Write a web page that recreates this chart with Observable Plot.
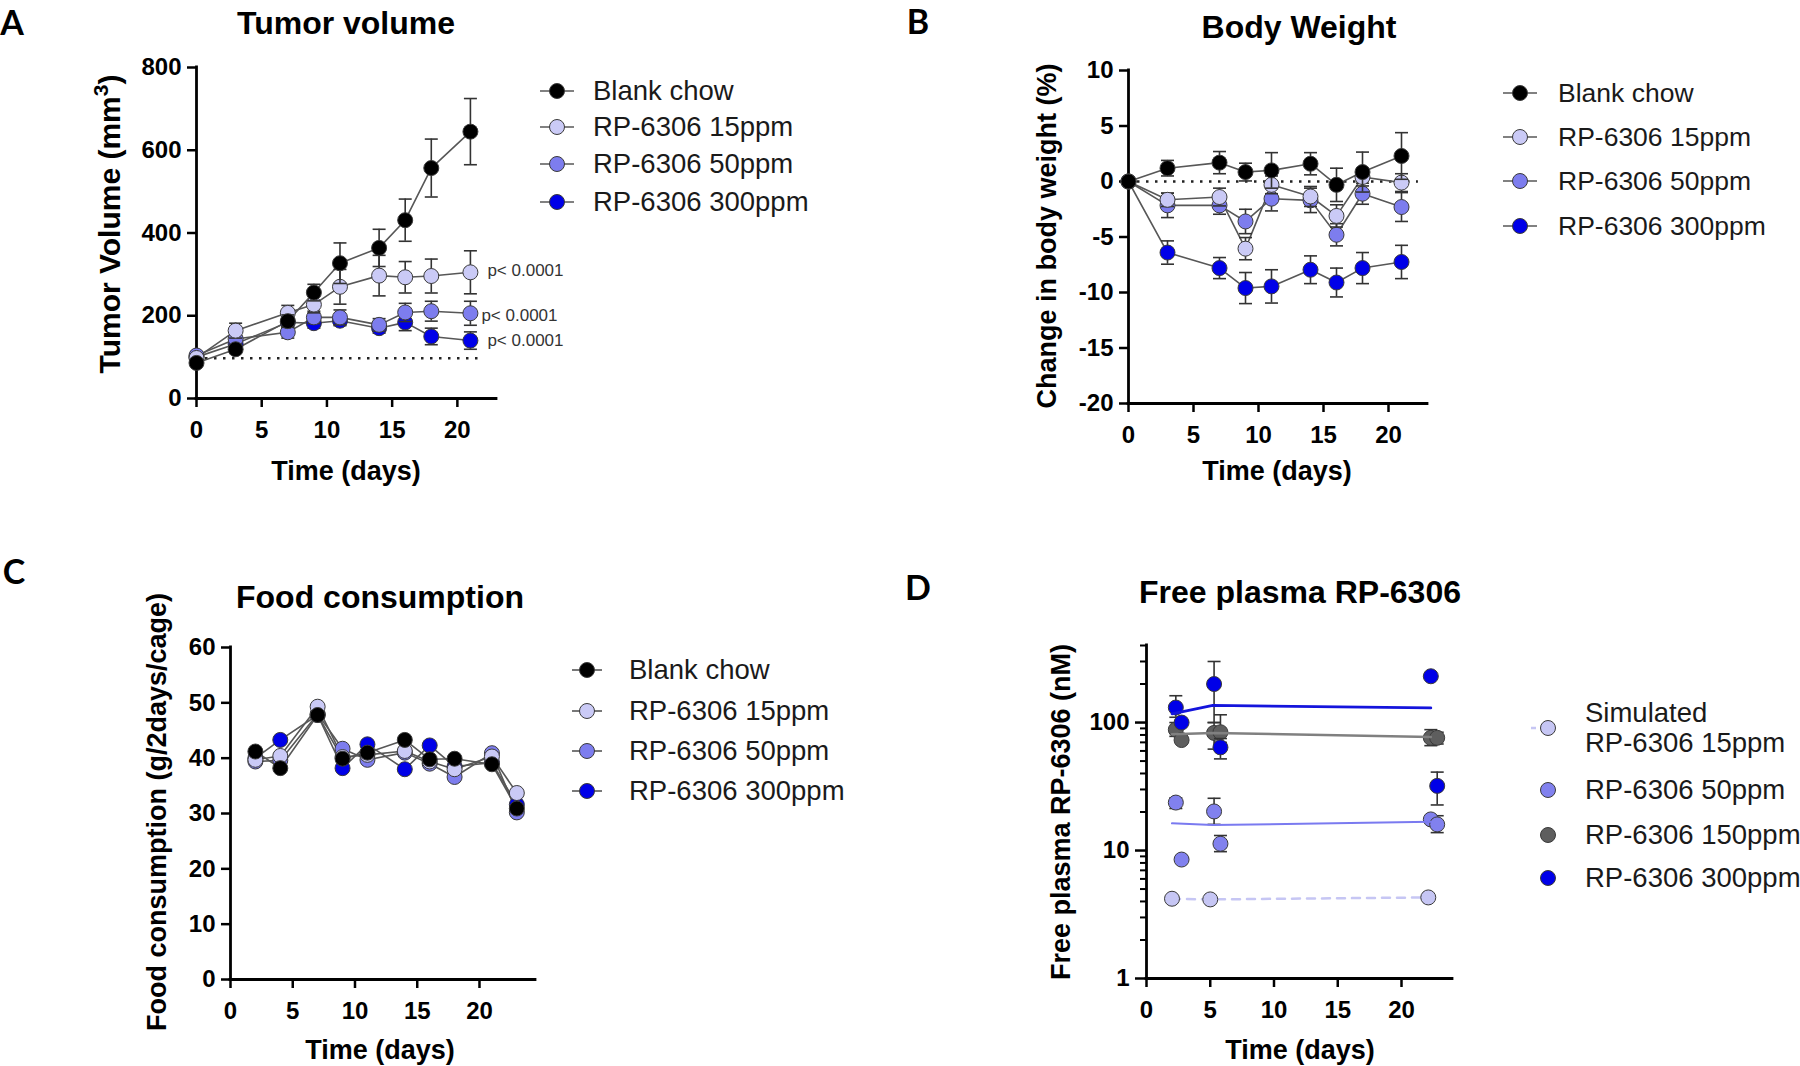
<!DOCTYPE html>
<html>
<head>
<meta charset="utf-8">
<script src="https://cdn.jsdelivr.net/npm/d3@7"></script>
<script src="https://cdn.jsdelivr.net/npm/@observablehq/plot@0.6"></script>
<style>
html,body{margin:0;padding:0;background:#fff;}
#fig{position:relative;width:1800px;height:1066px;overflow:hidden;background:#fff;font-family:"Liberation Sans",Arial,Helvetica,sans-serif;color:#000;}
#fig svg.panel{position:absolute;left:0;top:0;}
.t{position:absolute;white-space:nowrap;line-height:1;}
.ctr{transform:translate(-50%,-50%);}
.title{font-size:32px;font-weight:bold;}
.xlab{font-size:27px;font-weight:bold;}
.ylab{font-size:27px;font-weight:bold;transform:translate(-50%,-50%) rotate(-90deg);}
.letter{font-family:Lato,"Open Sans",sans-serif;font-size:34px;font-weight:bold;line-height:1.15;}
.leg{font-size:26.5px;color:#1a1a1a;transform:translateY(-50%);}
sup{font-size:0.7em;vertical-align:0.55em;line-height:0;}
</style>
</head>
<body>
<div id="fig"></div>
<script>
// ---------------- shared series ----------------
const seriesNames = ["Blank chow", "RP-6306 15ppm", "RP-6306 50ppm", "RP-6306 300ppm"];
const seriesColors = ["#000000", "#cacaf6", "#7d7dee", "#0000e8"];

// ---------------- A: Tumor volume ----------------
const tumorDays = [0, 3, 7, 9, 11, 14, 16, 18, 21];
const tumorBlank = [86, 119, 187, 256, 327, 364, 431, 557, 645];
const tumorBlankErr = [8, 10, 15, 20, 49, 45, 51, 70, 80];
const tumor15 = [98, 164, 207, 227, 270, 297, 293, 296, 305];
const tumor15Err = [8, 18, 18, 20, 42, 49, 38, 41, 52];
const tumor50 = [104, 144, 160, 196, 196, 178, 208, 211, 206];
const tumor50Err = [8, 14, 14, 15, 18, 15, 22, 24, 29];
const tumor300 = [100, 132, 184, 182, 188, 170, 184, 150, 140];
const tumor300Err = [8, 12, 14, 12, 12, 12, 20, 20, 21];
const tumorStart = 97;
const tumorStartEnd = 21.6;
const tumorPLabels = ["p< 0.0001", "p< 0.0001", "p< 0.0001"];
const tumorXTicks = [0, 5, 10, 15, 20];
const tumorYTicks = [0, 200, 400, 600, 800];

// ---------------- B: Body weight ----------------
const bwDays = [0, 3, 7, 9, 11, 14, 16, 18, 21];
const bwBlank = [0, 1.2, 1.7, 0.85, 1.0, 1.6, -0.3, 0.85, 2.3];
const bwBlankErr = [0, 0.7, 1.0, 0.8, 1.6, 1.0, 1.5, 1.8, 2.1];
const bw15 = [0, -1.65, -1.4, -6.05, -0.3, -1.35, -3.1, 0.4, -0.1];
const bw15Err = [0, 0.6, 0.8, 1.0, 0.8, 0.9, 1.0, 0.8, 0.8];
const bw50 = [0, -2.15, -2.15, -3.6, -1.55, -1.7, -4.8, -1.1, -2.3];
const bw50Err = [0, 1.1, 0.8, 1.1, 1.1, 1.1, 1.0, 0.95, 1.3];
const bw300 = [0, -6.4, -7.8, -9.6, -9.45, -7.95, -9.1, -7.8, -7.25];
const bw300Err = [0, 1.05, 0.95, 1.4, 1.5, 1.25, 1.3, 1.4, 1.5];
const bwRefEnd = 22.3;
const bwXTicks = [0, 5, 10, 15, 20];
const bwYTicks = [-20, -15, -10, -5, 0, 5, 10];

// ---------------- C: Food consumption ----------------
const foodDays = [2, 4, 7, 9, 11, 14, 16, 18, 21, 23];
const foodBlank = [41.2, 38.2, 47.8, 39.9, 41.0, 43.3, 39.8, 39.9, 38.9, 30.9];
const food15 = [39.7, 40.4, 49.3, 40.2, 40.6, 41.3, 39.4, 38.0, 40.3, 33.7];
const food50 = [39.4, 39.6, 48.0, 41.7, 39.7, 41.0, 39.0, 36.6, 40.9, 30.2];
const food300 = [40.0, 43.3, 47.8, 38.2, 42.5, 38.0, 42.3, 38.5, 39.2, 31.6];
const foodXTicks = [0, 5, 10, 15, 20];
const foodYTicks = [0, 10, 20, 30, 40, 50, 60];

// ---------------- D: Free plasma RP-6306 ----------------
const plasmaNames = ["Simulated<br>RP-6306 15ppm", "RP-6306 50ppm", "RP-6306 150ppm", "RP-6306 300ppm"];
const plasmaColors = ["#c6c6f4", "#8181ee", "#5e5e5e", "#0000e8"];
const plasmaFitColors = ["#c6c6f4", "#7a7af0", "#808080", "#1414dc"];
const sim15Days = [2.0, 5.0, 22.1];
const sim15Values = [4.2, 4.15, 4.3];
const obsDays = [2.3, 2.75, 5.3, 5.8, 22.3, 22.8];
const p50Values = [23.7, 8.5, 20.2, 11.3, 17.5, 16.0];
const p50Lo = [21.3, null, 16.0, 9.8, null, 13.8];
const p50Hi = [25.8, null, 25.6, 13.1, null, 18.7];
const p150Values = [88, 73, 83, 84, 76, 76];
const p150Lo = [78, null, 62, 70, 66, 68];
const p150Hi = [100, null, 100, 115, 88, 84];
const p300Values = [131, 100, 200, 64, 230, 32];
const p300Lo = [110, null, 100, 52, null, 22.7];
const p300Hi = [162, null, 300, 75, null, 41];
const fitDays = [2.0, 5.2, 22.3];
const fit50 = [16.3, 15.8, 16.8];
const fit150 = [81, 83, 77];
const fit300 = [117, 136, 130];
const plasmaXTicks = [0, 5, 10, 15, 20];
const plasmaYTicks = [1, 10, 100];
const plasmaYMinor = [2, 3, 4, 5, 6, 7, 8, 9, 20, 30, 40, 50, 60, 70, 80, 90, 200, 300, 400];

// ---------------- helpers ----------------
const W = 1800, H = 1066;
const FONT = '"Liberation Sans", Arial, Helvetica, sans-serif';
const LINE = "#575757", ERR = "#333333", EDGE = "#3a3a3a";
const R = 7.5;
const fig = document.getElementById("fig");
const cap = {draw(ctx) { ctx.moveTo(-6.5, 0); ctx.lineTo(6.5, 0); }};

function rowsOf(days, vals, errs, color, name) {
  return days.map((d, i) => ({
    x: d, y: vals[i],
    lo: errs ? vals[i] - errs[i] : null,
    hi: errs ? vals[i] + errs[i] : null,
    color, name
  }));
}
function rowsLoHi(days, vals, lo, hi, color, name) {
  return days.map((d, i) => ({x: d, y: vals[i], lo: lo ? lo[i] : null, hi: hi ? hi[i] : null, color, name}));
}

function axisMarks({xTicks, yTicks, yBase, yMinor, yTickSize = 9}) {
  const m = [
    Plot.ruleY([yBase], {stroke: "#000", strokeWidth: 2.8, strokeLinecap: "square"}),
    Plot.ruleX([0], {stroke: "#000", strokeWidth: 2.8, strokeLinecap: "square"}),
    Plot.axisX({ticks: xTicks, tickSize: 9, tickPadding: 13, strokeWidth: 2.5, fontSize: 24, fontWeight: "bold", fill: "#000", label: null, tickFormat: d => String(d)}),
    Plot.axisY({ticks: yTicks, tickSize: yTickSize, tickPadding: 6, strokeWidth: 2.5, fontSize: 24, fontWeight: "bold", fill: "#000", label: null, tickFormat: d => String(d)})
  ];
  if (yMinor) m.push(Plot.axisY({ticks: yMinor, tickSize: 6, strokeWidth: 2, label: null, tickFormat: () => ""}));
  return m;
}

function seriesMarks(seriesList, {r = R, lines = true}) {
  const marks = [];
  if (lines) {
    marks.push(Plot.line(seriesList.flat(), {x: "x", y: "y", z: "name", stroke: LINE, strokeWidth: 1.6}));
  }
  for (let k = seriesList.length - 1; k >= 0; k--) {
    const rows = seriesList[k];
    const withErr = rows.filter(d => d.lo != null && d.hi != null && d.hi - d.lo > 0);
    marks.push(Plot.ruleX(withErr, {x: "x", y1: "lo", y2: "hi", stroke: ERR, strokeWidth: 1.6}));
    marks.push(Plot.dot(withErr, {x: "x", y: "hi", symbol: cap, fill: "none", stroke: ERR, strokeWidth: 1.6}));
    marks.push(Plot.dot(withErr, {x: "x", y: "lo", symbol: cap, fill: "none", stroke: ERR, strokeWidth: 1.6}));
    marks.push(Plot.dot(rows, {x: "x", y: "y", r, fill: d => d.color, stroke: EDGE, strokeWidth: 1}));
  }
  return marks;
}

function panel({left, right, top, bottom, xDomain, yDomain, yType = "linear", marks}) {
  const svg = Plot.plot({
    width: W, height: H,
    marginLeft: left, marginRight: W - right, marginTop: top, marginBottom: H - bottom,
    x: {domain: xDomain, label: null},
    y: {domain: yDomain, type: yType, label: null},
    color: {type: "identity"},
    style: {fontFamily: FONT, fontWeight: "bold", background: "transparent", overflow: "visible", color: "#000"},
    marks
  });
  svg.classList.add("panel");
  fig.appendChild(svg);
}

function text(cls, x, y, html) {
  const d = document.createElement("div");
  d.className = "t " + cls;
  d.style.left = x + "px";
  d.style.top = y + "px";
  d.innerHTML = html;
  fig.appendChild(d);
  return d;
}

function legend(names, colors, {cx, half, tx, ys, r = R, line = "solid", lineColors = null, lineHeight = null, fontSize = null}) {
  names.forEach((name, i) => {
    const y = ys[i];
    const style = Array.isArray(line) ? line[i] : line;
    const s = d3.create("svg")
      .attr("width", 2 * half + 20).attr("height", 30)
      .style("position", "absolute")
      .style("left", (cx - half - 10) + "px")
      .style("top", (y - 15) + "px");
    if (style) {
      s.append("line").attr("x1", 10).attr("x2", 10 + 2 * half).attr("y1", 15).attr("y2", 15)
        .attr("stroke", lineColors ? lineColors[i] : LINE).attr("stroke-width", style === "dashed" ? 2.5 : 1.6)
        .attr("stroke-dasharray", style === "dashed" ? "5,14" : null);
    }
    s.append("circle").attr("cx", half + 10).attr("cy", 15).attr("r", r)
      .attr("fill", colors[i]).attr("stroke", EDGE).attr("stroke-width", 1);
    fig.appendChild(s.node());
    const t = text("leg", tx, y, name);
    if (lineHeight) t.style.lineHeight = lineHeight + "px";
    if (fontSize) t.style.fontSize = fontSize + "px";
  });
}

// ================= Panel A =================
{
  const series = [
    rowsOf(tumorDays, tumorBlank, tumorBlankErr, seriesColors[0], seriesNames[0]),
    rowsOf(tumorDays, tumor15, tumor15Err, seriesColors[1], seriesNames[1]),
    rowsOf(tumorDays, tumor50, tumor50Err, seriesColors[2], seriesNames[2]),
    rowsOf(tumorDays, tumor300, tumor300Err, seriesColors[3], seriesNames[3])
  ];
  const pOffsets = [17, 11, 17];
  const pNudge = [-2, 2, 0];
  const pMarks = [1, 2, 3].map((k, j) => {
    const last = series[k][series[k].length - 1];
    return Plot.text([last], {x: "x", y: "y", text: () => tumorPLabels[j], dx: pOffsets[j], dy: pNudge[j],
      textAnchor: "start", fontSize: 17, fontWeight: "normal", fill: "#333"});
  });
  panel({
    left: 196, right: 496, top: 67, bottom: 398,
    xDomain: [0, 23], yDomain: [0, 800],
    marks: [
      Plot.ruleY([tumorStart], {x1: 0, x2: tumorStartEnd, stroke: "#222", strokeWidth: 2.5, strokeDasharray: "2.5,6.5"}),
      ...axisMarks({xTicks: tumorXTicks, yTicks: tumorYTicks, yBase: 0}),
      ...seriesMarks(series, {}),
      ...pMarks
    ]
  });
  text("letter ctr", 12, 22, "A");
  text("title ctr", 346, 23, "Tumor volume");
  text("xlab ctr", 346, 471, "Time (days)");
  const yl = text("ylab", 110, 224, "Tumor Volume (mm<sup>3</sup>)");
  yl.style.fontSize = "30px";
  legend(seriesNames, seriesColors, {cx: 557, half: 17, tx: 593, ys: [91, 127, 164, 202], fontSize: 27.5});
}

// ================= Panel B =================
{
  const series = [
    rowsOf(bwDays, bwBlank, bwBlankErr, seriesColors[0], seriesNames[0]),
    rowsOf(bwDays, bw15, bw15Err, seriesColors[1], seriesNames[1]),
    rowsOf(bwDays, bw50, bw50Err, seriesColors[2], seriesNames[2]),
    rowsOf(bwDays, bw300, bw300Err, seriesColors[3], seriesNames[3])
  ];
  panel({
    left: 1128, right: 1427, top: 70, bottom: 403,
    xDomain: [0, 23], yDomain: [-20, 10],
    marks: [
      Plot.ruleY([0], {x1: 0, x2: bwRefEnd, stroke: "#222", strokeWidth: 2.5, strokeDasharray: "2.5,6.5"}),
      ...axisMarks({xTicks: bwXTicks, yTicks: bwYTicks, yBase: -20}),
      ...seriesMarks(series, {})
    ]
  });
  text("letter ctr", 918, 21, "B");
  text("title ctr", 1299, 27, "Body Weight");
  text("xlab ctr", 1277, 471, "Time (days)");
  text("ylab", 1047, 236, "Change in body weight (%)");
  legend(seriesNames, seriesColors, {cx: 1520, half: 17, tx: 1558, ys: [93, 137, 181, 226]});
}

// ================= Panel C =================
{
  const series = [
    rowsOf(foodDays, foodBlank, null, seriesColors[0], seriesNames[0]),
    rowsOf(foodDays, food15, null, seriesColors[1], seriesNames[1]),
    rowsOf(foodDays, food50, null, seriesColors[2], seriesNames[2]),
    rowsOf(foodDays, food300, null, seriesColors[3], seriesNames[3])
  ];
  panel({
    left: 230, right: 535, top: 647, bottom: 979,
    xDomain: [0, 24.5], yDomain: [0, 60],
    marks: [
      ...axisMarks({xTicks: foodXTicks, yTicks: foodYTicks, yBase: 0}),
      ...seriesMarks(series, {})
    ]
  });
  text("letter ctr", 14, 571, "C");
  text("title ctr", 380, 597, "Food consumption");
  text("xlab ctr", 380, 1050, "Time (days)");
  text("ylab", 157, 812, "Food consumption (g/2days/cage)");
  legend(seriesNames, seriesColors, {cx: 587, half: 15, tx: 629, ys: [670, 711, 751, 791], fontSize: 27.5});
}

// ================= Panel D =================
{
  const sim = rowsOf(sim15Days, sim15Values, null, plasmaColors[0], "sim15");
  const obs50 = rowsLoHi(obsDays, p50Values, p50Lo, p50Hi, plasmaColors[1], "p50");
  const obs150 = rowsLoHi(obsDays, p150Values, p150Lo, p150Hi, plasmaColors[2], "p150");
  const obs300 = rowsLoHi(obsDays, p300Values, p300Lo, p300Hi, plasmaColors[3], "p300");
  const f50 = rowsOf(fitDays, fit50, null, plasmaFitColors[1], "f50");
  const f150 = rowsOf(fitDays, fit150, null, plasmaFitColors[2], "f150");
  const f300 = rowsOf(fitDays, fit300, null, plasmaFitColors[3], "f300");
  panel({
    left: 1146, right: 1452, top: 645, bottom: 978,
    xDomain: [0, 24], yDomain: [1, 400], yType: "log",
    marks: [
      ...axisMarks({xTicks: plasmaXTicks, yTicks: plasmaYTicks, yBase: 1, yMinor: plasmaYMinor, yTickSize: 11}),
      Plot.line(sim, {x: "x", y: "y", stroke: plasmaFitColors[0], strokeWidth: 2.5, strokeDasharray: "8,7"}),
      ...seriesMarks([sim], {lines: false}),
      ...seriesMarks([obs300, obs150, obs50], {lines: false}),
      Plot.line(f50, {x: "x", y: "y", stroke: plasmaFitColors[1], strokeWidth: 2}),
      Plot.line(f150, {x: "x", y: "y", stroke: plasmaFitColors[2], strokeWidth: 2.5}),
      Plot.line(f300, {x: "x", y: "y", stroke: plasmaFitColors[3], strokeWidth: 2.8})
    ]
  });
  text("letter ctr", 918, 587, "D");
  text("title ctr", 1300, 592, "Free plasma RP-6306");
  text("xlab ctr", 1300, 1050, "Time (days)");
  text("ylab", 1061, 812, "Free plasma RP-6306 (nM)");
  legend(plasmaNames, plasmaColors, {cx: 1548, half: 17, tx: 1585, ys: [728, 790, 835, 878], fontSize: 27.5,
    line: ["dashed", null, null, null], lineColors: [plasmaFitColors[0], null, null, null], lineHeight: 30});
}
</script>
</body>
</html>
